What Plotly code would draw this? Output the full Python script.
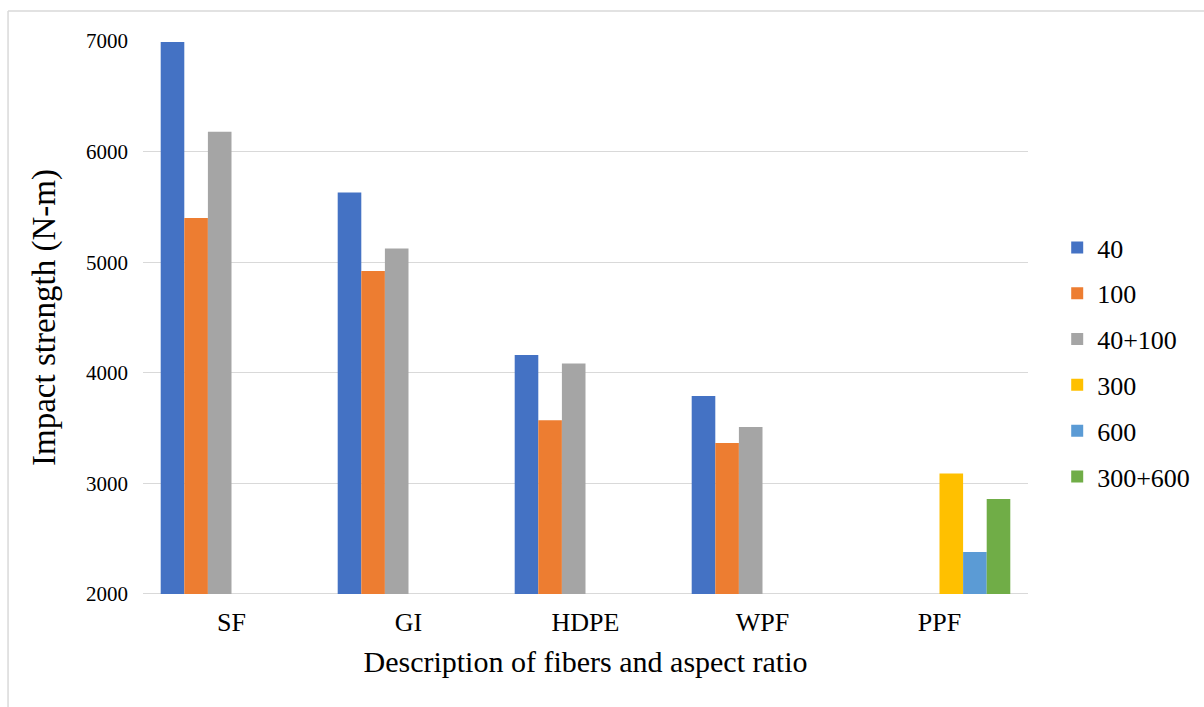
import plotly.graph_objects as go

categories = ["SF", "GI", "HDPE", "WPF", "PPF"]
series_names = ["40", "100", "40+100", "300", "600", "300+600"]

s40 = [6990, 5630, 4160, 3790, None]
s100 = [5400, 4920, 3570, 3365, None]
s40_100 = [6180, 5125, 4085, 3510, None]
s300 = [None, None, None, None, 3090]
s600 = [None, None, None, None, 2380]
s300_600 = [None, None, None, None, 2860]

series_values = [s40, s100, s40_100, s300, s600, s300_600]
colors = ["#4472C4", "#ED7D31", "#A5A5A5", "#FFC000", "#5B9BD5", "#70AD47"]

FONT = "Liberation Serif, Times New Roman, serif"

fig = go.Figure()
for name, vals, col in zip(series_names, series_values, colors):
    fig.add_trace(go.Bar(
        x=categories, y=vals, name=name, legendgroup=name,
        marker=dict(color=col, line=dict(width=0)),
    ))

fig.update_layout(
    width=1204, height=707,
    margin=dict(l=143, r=176, t=41, b=113, autoexpand=False),
    paper_bgcolor="white", plot_bgcolor="white",
    barmode="group", bargap=0.2, bargroupgap=0,
    font=dict(family=FONT, color="black"),
    xaxis=dict(
        showgrid=False, showline=False, ticks="",
        tickfont=dict(size=26, family=FONT), ticklabelstandoff=10,
        title=dict(text="Description of fibers and aspect ratio",
                   font=dict(size=30, family=FONT), standoff=14),
    ),
    yaxis=dict(
        range=[2000, 7000], dtick=1000, tick0=2000,
        showgrid=True, gridcolor="#D9D9D9", gridwidth=1.3,
        zeroline=False, showline=False, ticks="",
        tickfont=dict(size=21, family=FONT), ticklabelstandoff=14,
        title=dict(text="Impact strength (N-m)",
                   font=dict(size=33, family=FONT), standoff=20),
    ),
    legend=dict(
        x=1.033, xanchor="left", y=0.669, yanchor="top",
        font=dict(size=26, family=FONT),
        tracegroupgap=9, bgcolor="rgba(0,0,0,0)",
    ),
    showlegend=True,
)

# baseline at the bottom of the value axis
fig.add_shape(type="line", xref="paper", yref="y", x0=0, x1=1, y0=2000, y1=2000,
              line=dict(color="#D9D9D9", width=2), layer="below")

# light frame around the chart area (top and left edges)
fig.add_shape(type="line", xref="paper", yref="paper", x0=-0.1525, x1=1.3, y0=1.0542, y1=1.0542,
              line=dict(color="#D9D9D9", width=1.5))
fig.add_shape(type="line", xref="paper", yref="paper", x0=-0.1525, x1=-0.1525, y0=1.0542, y1=-0.21,
              line=dict(color="#D9D9D9", width=1.5))

fig.write_html("out.html")
